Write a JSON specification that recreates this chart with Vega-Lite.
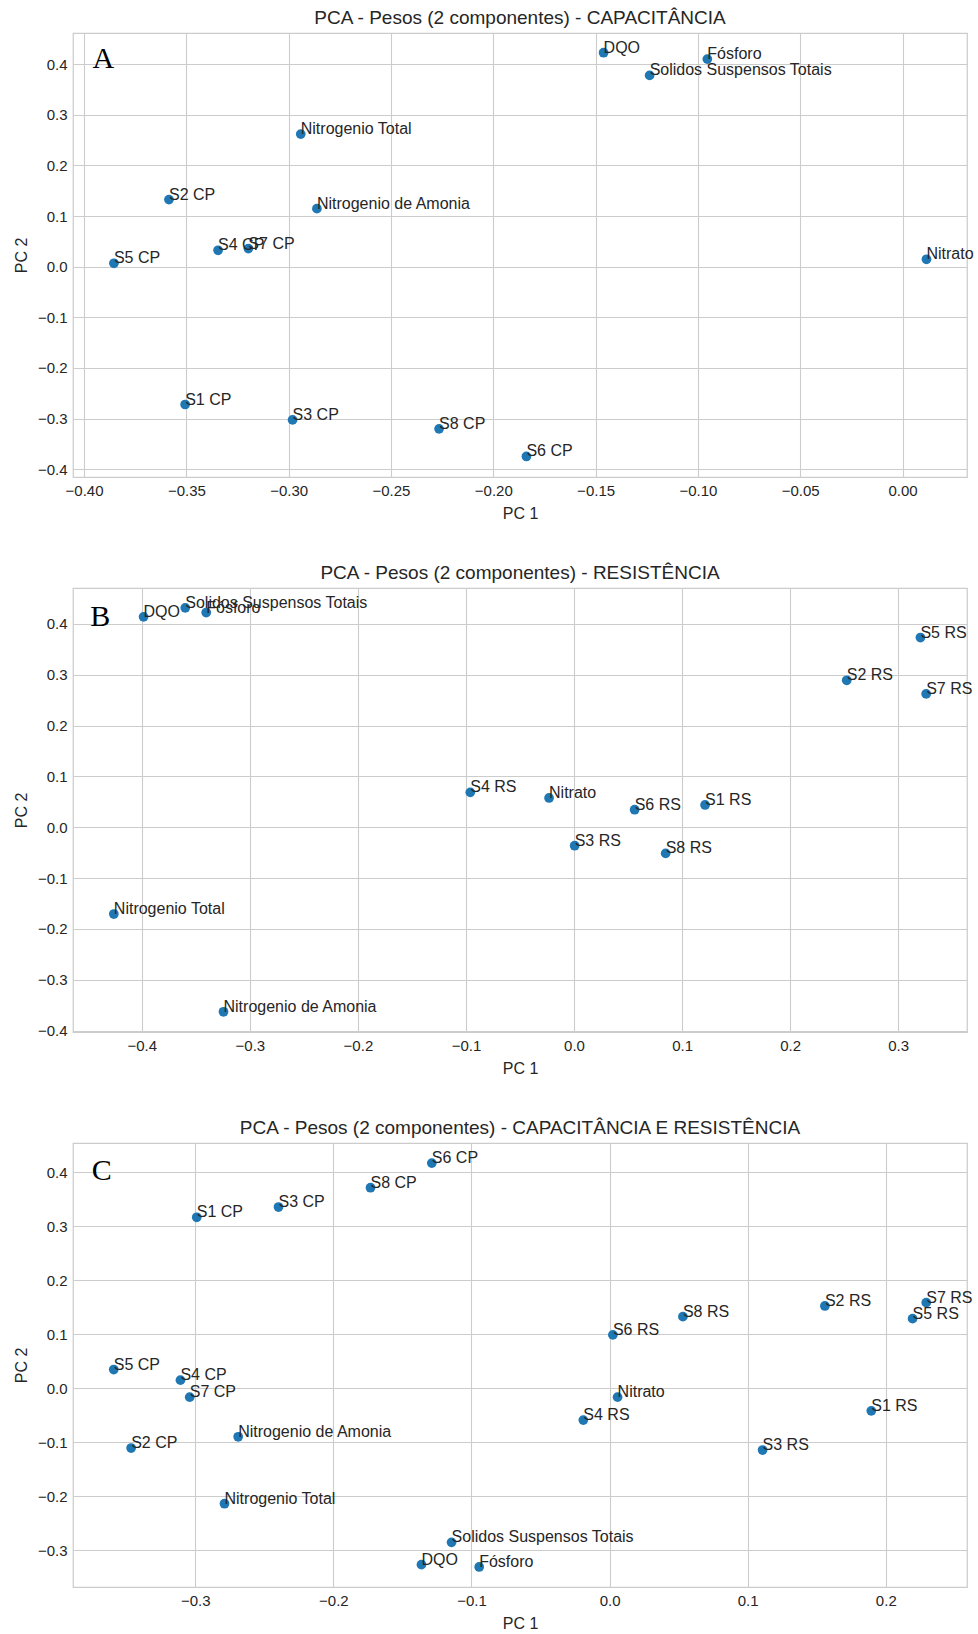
{
  "$schema": "https://vega.github.io/schema/vega-lite/v6.json",
  "padding": {"left": 12, "top": 8, "right": 5, "bottom": 5},
  "spacing": 41,
  "datasets": {
    "pesos": [
      {"painel": "A", "rotulo": "S1 CP", "pc1": -0.3506, "pc2": -0.2723},
      {"painel": "A", "rotulo": "S2 CP", "pc1": -0.3585, "pc2": 0.1324},
      {"painel": "A", "rotulo": "S3 CP", "pc1": -0.2981, "pc2": -0.3027},
      {"painel": "A", "rotulo": "S4 CP", "pc1": -0.3345, "pc2": 0.0323},
      {"painel": "A", "rotulo": "S5 CP", "pc1": -0.3854, "pc2": 0.0066},
      {"painel": "A", "rotulo": "S6 CP", "pc1": -0.1838, "pc2": -0.375},
      {"painel": "A", "rotulo": "S7 CP", "pc1": -0.3197, "pc2": 0.0356},
      {"painel": "A", "rotulo": "S8 CP", "pc1": -0.2265, "pc2": -0.3204},
      {"painel": "A", "rotulo": "DQO", "pc1": -0.1461, "pc2": 0.4225},
      {"painel": "A", "rotulo": "Fósforo", "pc1": -0.0954, "pc2": 0.4099},
      {"painel": "A", "rotulo": "Solidos Suspensos Totais", "pc1": -0.1236, "pc2": 0.3777},
      {"painel": "A", "rotulo": "Nitrogenio Total", "pc1": -0.2941, "pc2": 0.2618},
      {"painel": "A", "rotulo": "Nitrogenio de Amonia", "pc1": -0.2862, "pc2": 0.1146},
      {"painel": "A", "rotulo": "Nitrato", "pc1": 0.0117, "pc2": 0.0145},

      {"painel": "B", "rotulo": "S1 RS", "pc1": 0.1213, "pc2": 0.0437},
      {"painel": "B", "rotulo": "S2 RS", "pc1": 0.2524, "pc2": 0.289},
      {"painel": "B", "rotulo": "S3 RS", "pc1": 0.0006, "pc2": -0.0364},
      {"painel": "B", "rotulo": "S4 RS", "pc1": -0.096, "pc2": 0.0685},
      {"painel": "B", "rotulo": "S5 RS", "pc1": 0.3206, "pc2": 0.373},
      {"painel": "B", "rotulo": "S6 RS", "pc1": 0.0561, "pc2": 0.0344},
      {"painel": "B", "rotulo": "S7 RS", "pc1": 0.3259, "pc2": 0.2622},
      {"painel": "B", "rotulo": "S8 RS", "pc1": 0.0848, "pc2": -0.0516},
      {"painel": "B", "rotulo": "DQO", "pc1": -0.3984, "pc2": 0.4138},
      {"painel": "B", "rotulo": "Fósforo", "pc1": -0.3404, "pc2": 0.4222},
      {"painel": "B", "rotulo": "Solidos Suspensos Totais", "pc1": -0.3598, "pc2": 0.4315},
      {"painel": "B", "rotulo": "Nitrogenio Total", "pc1": -0.4259, "pc2": -0.1709},
      {"painel": "B", "rotulo": "Nitrogenio de Amonia", "pc1": -0.3244, "pc2": -0.3632},
      {"painel": "B", "rotulo": "Nitrato", "pc1": -0.0231, "pc2": 0.0575},

      {"painel": "C", "rotulo": "S1 CP", "pc1": -0.2989, "pc2": 0.3163},
      {"painel": "C", "rotulo": "S2 CP", "pc1": -0.3464, "pc2": -0.1107},
      {"painel": "C", "rotulo": "S3 CP", "pc1": -0.2397, "pc2": 0.3353},
      {"painel": "C", "rotulo": "S4 CP", "pc1": -0.3107, "pc2": 0.015},
      {"painel": "C", "rotulo": "S5 CP", "pc1": -0.359, "pc2": 0.0346},
      {"painel": "C", "rotulo": "S6 CP", "pc1": -0.1287, "pc2": 0.4166},
      {"painel": "C", "rotulo": "S7 CP", "pc1": -0.304, "pc2": -0.0165},
      {"painel": "C", "rotulo": "S8 CP", "pc1": -0.1731, "pc2": 0.371},
      {"painel": "C", "rotulo": "S1 RS", "pc1": 0.1895, "pc2": -0.0418},
      {"painel": "C", "rotulo": "S2 RS", "pc1": 0.1559, "pc2": 0.1523},
      {"painel": "C", "rotulo": "S3 RS", "pc1": 0.1108, "pc2": -0.1144},
      {"painel": "C", "rotulo": "S4 RS", "pc1": -0.019, "pc2": -0.059},
      {"painel": "C", "rotulo": "S5 RS", "pc1": 0.2194, "pc2": 0.1288},
      {"painel": "C", "rotulo": "S6 RS", "pc1": 0.0024, "pc2": 0.0987},
      {"painel": "C", "rotulo": "S7 RS", "pc1": 0.2293, "pc2": 0.1584},
      {"painel": "C", "rotulo": "S8 RS", "pc1": 0.0531, "pc2": 0.1325},
      {"painel": "C", "rotulo": "DQO", "pc1": -0.1362, "pc2": -0.3264},
      {"painel": "C", "rotulo": "Fósforo", "pc1": -0.0944, "pc2": -0.3307},
      {"painel": "C", "rotulo": "Solidos Suspensos Totais", "pc1": -0.1144, "pc2": -0.2852},
      {"painel": "C", "rotulo": "Nitrogenio Total", "pc1": -0.2788, "pc2": -0.2137},
      {"painel": "C", "rotulo": "Nitrogenio de Amonia", "pc1": -0.2689, "pc2": -0.0898},
      {"painel": "C", "rotulo": "Nitrato", "pc1": 0.0058, "pc2": -0.0165}
    ],
    "letras": [
      {"painel": "A", "letra": "A", "pc1": -0.3959, "pc2": 0.3929},
      {"painel": "B", "letra": "B", "pc1": -0.4478, "pc2": 0.396},
      {"painel": "C", "letra": "C", "pc1": -0.3749, "pc2": 0.3858}
    ]
  },
  "config": {
    "view": {"stroke": "#cccccc", "strokeWidth": 1.25},
    "axis": {
      "domain": false,
      "ticks": false,
      "grid": true,
      "gridColor": "#cccccc",
      "gridWidth": 1.1,
      "labelFont": "Liberation Sans",
      "labelFontSize": 15,
      "labelColor": "#262626",
      "labelPadding": 6,
      "titleFont": "Liberation Sans",
      "titleFontSize": 16,
      "titleFontWeight": "normal",
      "titleColor": "#262626"
    },
    "axisX": {"titlePadding": 7},
    "axisY": {"titlePadding": 8},
    "title": {
      "font": "Liberation Sans",
      "fontSize": 19,
      "fontWeight": "normal",
      "color": "#262626",
      "offset": 5
    }
  },
  "vconcat": [
    {
      "title": "PCA - Pesos (2 componentes) - CAPACITÂNCIA",
      "width": 894,
      "height": 444,
      "encoding": {
        "x": {
          "field": "pc1", "type": "quantitative", "title": "PC 1",
          "scale": {"domain": [-0.4054, 0.0315], "nice": false, "zero": false},
          "axis": {"values": [-0.4, -0.35, -0.3, -0.25, -0.2, -0.15, -0.1, -0.05, 0], "format": ".2f"}
        },
        "y": {
          "field": "pc2", "type": "quantitative", "title": "PC 2",
          "scale": {"domain": [-0.4155, 0.4615], "nice": false, "zero": false},
          "axis": {"values": [-0.4, -0.3, -0.2, -0.1, 0, 0.1, 0.2, 0.3, 0.4], "format": ".1f"}
        }
      },
      "layer": [
        {
          "data": {"name": "pesos"},
          "transform": [{"filter": "datum.painel === 'A'"}],
          "mark": {"type": "circle", "size": 95, "color": "#1f77b4", "opacity": 1}
        },
        {
          "data": {"name": "pesos"},
          "transform": [{"filter": "datum.painel === 'A'"}],
          "mark": {"type": "text", "align": "left", "baseline": "alphabetic", "font": "Liberation Sans", "fontSize": 16, "color": "#262626"},
          "encoding": {"text": {"field": "rotulo"}}
        },
        {
          "data": {"name": "letras"},
          "transform": [{"filter": "datum.painel === 'A'"}],
          "mark": {"type": "text", "align": "left", "baseline": "alphabetic", "font": "Liberation Serif", "fontSize": 30, "color": "#000000"},
          "encoding": {"text": {"field": "letra"}}
        }
      ]
    },
    {
      "title": "PCA - Pesos (2 componentes) - RESISTÊNCIA",
      "width": 894,
      "height": 444,
      "encoding": {
        "x": {
          "field": "pc1", "type": "quantitative", "title": "PC 1",
          "scale": {"domain": [-0.4637, 0.3637], "nice": false, "zero": false},
          "axis": {"values": [-0.4, -0.3, -0.2, -0.1, 0, 0.1, 0.2, 0.3], "format": ".1f"}
        },
        "y": {
          "field": "pc2", "type": "quantitative", "title": "PC 2",
          "scale": {"domain": [-0.4029, 0.4705], "nice": false, "zero": false},
          "axis": {"values": [-0.4, -0.3, -0.2, -0.1, 0, 0.1, 0.2, 0.3, 0.4], "format": ".1f"}
        }
      },
      "layer": [
        {
          "data": {"name": "pesos"},
          "transform": [{"filter": "datum.painel === 'B'"}],
          "mark": {"type": "circle", "size": 95, "color": "#1f77b4", "opacity": 1}
        },
        {
          "data": {"name": "pesos"},
          "transform": [{"filter": "datum.painel === 'B'"}],
          "mark": {"type": "text", "align": "left", "baseline": "alphabetic", "font": "Liberation Sans", "fontSize": 16, "color": "#262626"},
          "encoding": {"text": {"field": "rotulo"}}
        },
        {
          "data": {"name": "letras"},
          "transform": [{"filter": "datum.painel === 'B'"}],
          "mark": {"type": "text", "align": "left", "baseline": "alphabetic", "font": "Liberation Serif", "fontSize": 30, "color": "#000000"},
          "encoding": {"text": {"field": "letra"}}
        }
      ]
    },
    {
      "title": "PCA - Pesos (2 componentes) - CAPACITÂNCIA E RESISTÊNCIA",
      "width": 894,
      "height": 444,
      "encoding": {
        "x": {
          "field": "pc1", "type": "quantitative", "title": "PC 1",
          "scale": {"domain": [-0.3885, 0.2588], "nice": false, "zero": false},
          "axis": {"values": [-0.3, -0.2, -0.1, 0, 0.1, 0.2], "format": ".1f"}
        },
        "y": {
          "field": "pc2", "type": "quantitative", "title": "PC 2",
          "scale": {"domain": [-0.3678, 0.4538], "nice": false, "zero": false},
          "axis": {"values": [-0.3, -0.2, -0.1, 0, 0.1, 0.2, 0.3, 0.4], "format": ".1f"}
        }
      },
      "layer": [
        {
          "data": {"name": "pesos"},
          "transform": [{"filter": "datum.painel === 'C'"}],
          "mark": {"type": "circle", "size": 95, "color": "#1f77b4", "opacity": 1}
        },
        {
          "data": {"name": "pesos"},
          "transform": [{"filter": "datum.painel === 'C'"}],
          "mark": {"type": "text", "align": "left", "baseline": "alphabetic", "font": "Liberation Sans", "fontSize": 16, "color": "#262626"},
          "encoding": {"text": {"field": "rotulo"}}
        },
        {
          "data": {"name": "letras"},
          "transform": [{"filter": "datum.painel === 'C'"}],
          "mark": {"type": "text", "align": "left", "baseline": "alphabetic", "font": "Liberation Serif", "fontSize": 30, "color": "#000000"},
          "encoding": {"text": {"field": "letra"}}
        }
      ]
    }
  ]
}
